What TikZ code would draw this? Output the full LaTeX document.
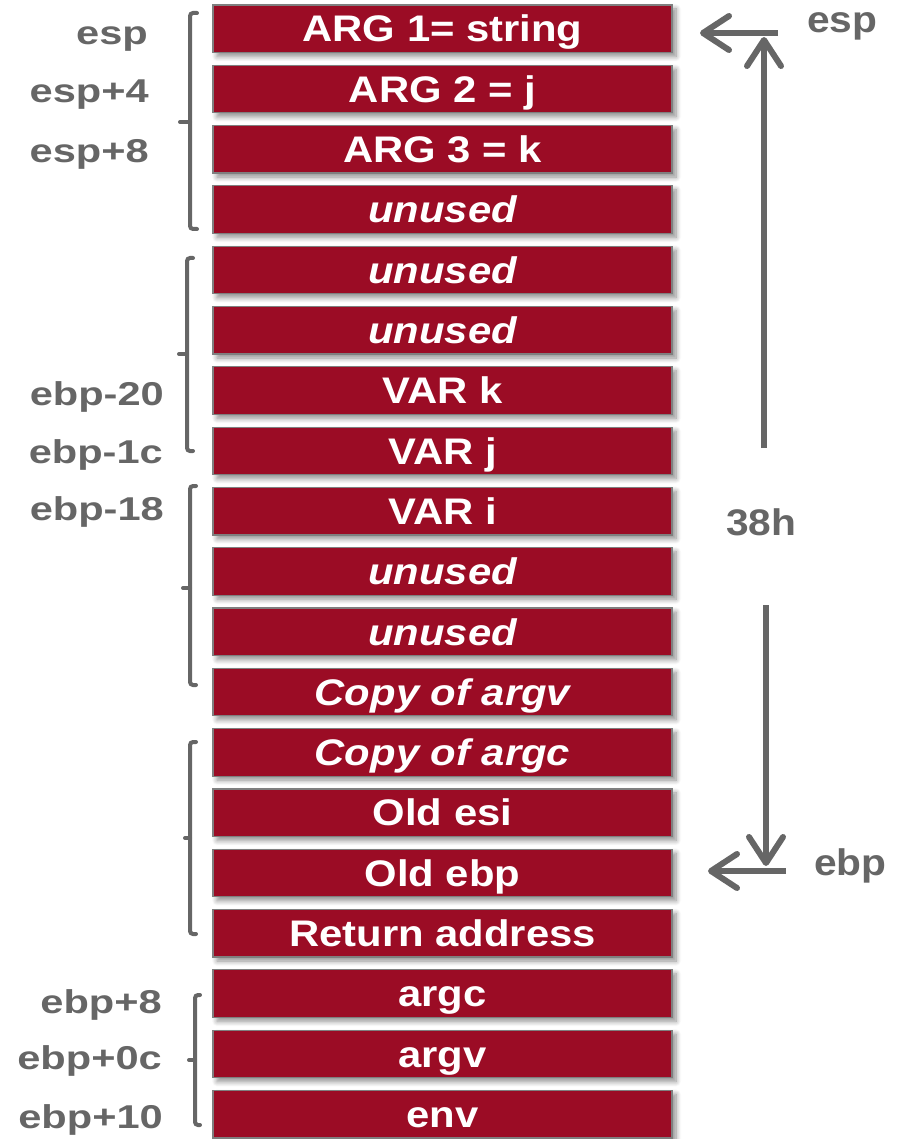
\documentclass[tikz,border=0pt]{standalone}
\usepackage{fontspec}
\usepackage{graphicx}
\setmainfont{Liberation Sans}
\usetikzlibrary{arrows.meta,shadows.blur}
\definecolor{cellred}{HTML}{9B0C25}
\definecolor{cellborder}{HTML}{7F7F7F}
\definecolor{lblgray}{HTML}{666666}
\newcommand\cellwide[1]{\scalebox{1.13}[1]{#1}}
\newcommand\lblwide[1]{\scalebox{1.26}[1]{#1}}
\newcommand\rwide[1]{\scalebox{1.1}[1]{#1}}
\tikzset{
  cell/.style={draw=cellborder, line width=1.2pt, fill=cellred, text=white,
    minimum width=459pt, minimum height=47.5pt, inner sep=0pt,
    text height=26.5pt, text depth=0pt,
    font=\fontsize{37}{42}\selectfont\bfseries,
    blur shadow={shadow xshift=4pt, shadow yshift=-4pt, shadow opacity=45,
      shadow blur radius=5pt, shadow blur steps=8}},
  lbl/.style={text=lblgray, font=\fontsize{33}{38}\selectfont\bfseries, inner sep=0pt},
  rlbl/.style={text=lblgray, font=\fontsize{37}{42}\selectfont\bfseries, inner sep=0pt},
  bracket/.style={draw=lblgray, line width=4pt, rounded corners=3pt, line cap=round},
  ptr/.style={draw=lblgray, line width=6pt,
    -{Straight Barb[length=26pt, width=34pt, round]}}
}
\begin{document}
\begin{tikzpicture}[x=1pt, y=-1pt]
\useasboundingbox (0,0) rectangle (899,1139);
% cells
\foreach \i/\t in {
  0/{ARG 1= string}, 1/{ARG 2 = j}, 2/{ARG 3 = k}, 3/{\itshape unused},
  4/{\itshape unused}, 5/{\itshape unused}, 6/{VAR k}, 7/{VAR j}, 8/{VAR i},
  9/{\itshape unused}, 10/{\itshape unused}, 11/{\itshape Copy of argv},
  12/{\itshape Copy of argc}, 13/{Old esi}, 14/{Old ebp}, 15/{Return address},
  16/{argc}, 17/{argv}, 18/{env}}
  \node[cell] (c\i) at (442.5, 28.75+60.3*\i) {\cellwide{\t}};
% left labels
\node[lbl, anchor=base east] (lesp)  at (148, 45)  {\lblwide{esp}};
\node[lbl, anchor=base east] (lesp4) at (149, 103) {\lblwide{esp+4}};
\node[lbl, anchor=base east] (lesp8) at (149, 163) {\lblwide{esp+8}};
\node[lbl, anchor=base east] (lm20)  at (164, 405) {\lblwide{ebp-20}};
\node[lbl, anchor=base east] (lm1c)  at (163, 463) {\lblwide{ebp-1c}};
\node[lbl, anchor=base east] (lm18)  at (164, 520) {\lblwide{ebp-18}};
\node[lbl, anchor=base east] (lp8)   at (162, 1013) {\lblwide{ebp+8}};
\node[lbl, anchor=base east] (lp0c)  at (162, 1069) {\lblwide{ebp+0c}};
\node[lbl, anchor=base east] (lp10)  at (163, 1128) {\lblwide{ebp+10}};
% brackets
\draw[bracket] (197,13) -- (190,13) -- (190,229) -- (197,229);
\draw[bracket] (190,122) -- (180,122);
\draw[bracket] (193,258) -- (187,258) -- (187,451) -- (193,451);
\draw[bracket] (187,354) -- (179,354);
\draw[bracket] (196,486) -- (190,486) -- (190,685) -- (196,685);
\draw[bracket] (190,588) -- (183,588);
\draw[bracket] (196,742) -- (190,742) -- (190,934) -- (196,934);
\draw[bracket] (190,838) -- (185,838);
\draw[bracket] (200,995) -- (195,995) -- (195,1125) -- (200,1125);
\draw[bracket] (195,1060) -- (189,1060);
% right side
\node[rlbl, anchor=base west] (resp) at (807,33)  {\rwide{esp}};
\node[rlbl, anchor=base west] (rebp) at (814,875) {\rwide{ebp}};
\node[rlbl, anchor=base west] (size) at (726,535) {\rwide{38h}};
\coordinate (upS) at (764,448);
\coordinate (upE) at (764,37);
\coordinate (espbarR) at (778,33);
\coordinate (espT) at (700,33);
\coordinate (dnS) at (766,605);
\coordinate (dnE) at (766,866);
\coordinate (ebpbarR) at (786,871);
\coordinate (ebpT) at (708,871);
\draw[ptr] (upS) -- (upE);
\draw[ptr] (espbarR) -- (espT);
\draw[ptr] (dnS) -- (dnE);
\draw[ptr] (ebpbarR) -- (ebpT);
\end{tikzpicture}
\end{document}
